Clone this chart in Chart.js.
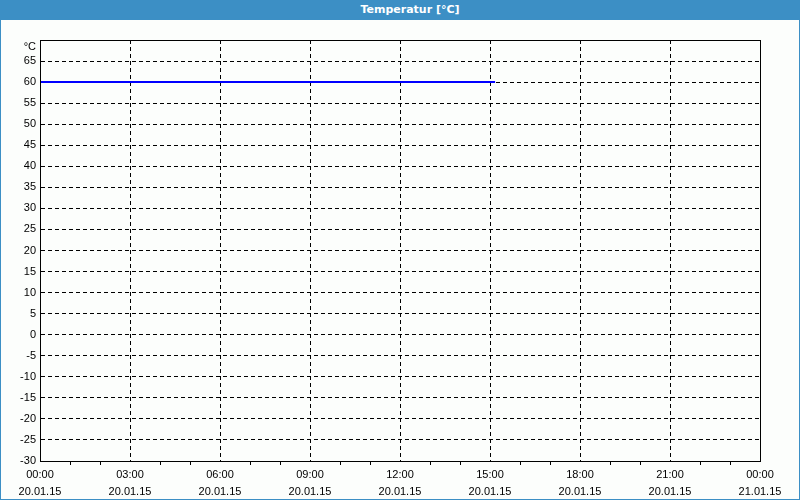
<!DOCTYPE html>
<html><head><meta charset="utf-8">
<script src="https://cdn.jsdelivr.net/npm/chart.js@4.4.1/dist/chart.umd.min.js"></script>
<style>
html,body{margin:0;padding:0;background:#fcfefc;}
#wrap{position:relative;width:800px;height:500px;box-sizing:border-box;border-left:1px solid #3c8fc5;border-right:1px solid #3c8fc5;border-bottom:1px solid #3c8fc5;background:#fcfefc;overflow:hidden;}
#title{position:absolute;left:-1px;top:0;width:800px;height:20px;box-sizing:border-box;padding-left:20px;background:#3c8fc5;color:#fff;font:bold 11px "DejaVu Sans",sans-serif;text-align:center;line-height:20px;}
#c{position:absolute;left:0;top:20px;}
</style></head>
<body>
<div id="wrap"><div id="title">Temperatur [°C]</div><canvas id="c" width="798" height="479"></canvas></div>
<script>
// Data (hours since 20.01.15 00:00)
const hours = [0, 1, 2, 3, 4, 5, 6, 7, 8, 9, 10, 11, 12, 13, 14, 15, 15.17];
const temps = [60, 60, 60, 60, 60, 60, 60, 60, 60, 60, 60, 60, 60, 60, 60, 60, 60];
const timeLabels = ["00:00","03:00","06:00","09:00","12:00","15:00","18:00","21:00","00:00"];
const dateLabels = ["20.01.15","20.01.15","20.01.15","20.01.15","20.01.15","20.01.15","20.01.15","20.01.15","21.01.15"];
const yUnit = "°C";

const points = hours.map((h,i)=>({x:h,y:temps[i]}));
const font = {family:"'Liberation Sans', Arial, sans-serif", size:11};

const boxPlugin = {
  id:'box',
  afterDraw(chart){
    const a = chart.chartArea, ctx = chart.ctx;
    ctx.save();
    ctx.strokeStyle = '#000'; ctx.lineWidth = 1; ctx.setLineDash([]);
    ctx.strokeRect(Math.round(a.left)+0.5, Math.round(a.top)+0.5, Math.round(a.right-a.left), Math.round(a.bottom-a.top));
    ctx.restore();
  }
};

new Chart(document.getElementById('c'), {
  type:'line',
  data:{datasets:[{data:points, borderColor:'#0000ff', borderWidth:2, pointRadius:0, tension:0}]},
  options:{
    responsive:false, animation:false, events:[],
    layout:{padding:{top:20,right:39,left:0,bottom:0}},
    plugins:{legend:{display:false}, tooltip:{enabled:false}},
    scales:{
      x:{type:'linear', min:0, max:24,
        afterFit(s){ s.height = 38; },
        border:{display:true,color:'#000',width:1,dash:[4,3]},
        grid:{
          color:(c)=> (c.tick && c.tick.value%3===0) ? '#000' : 'rgba(0,0,0,0)',
          tickColor:(c)=> (c.tick && c.tick.value%3===0) ? 'rgba(0,0,0,0)' : '#000',
          tickBorderDash:[], drawTicks:true, tickLength:4, lineWidth:1
        },
        ticks:{stepSize:1, autoSkip:false, maxRotation:0, minRotation:0, color:'#000', font:{...font, lineHeight:1.5}, padding:2,
          callback:(v)=> v%3===0 ? [timeLabels[v/3], dateLabels[v/3]] : ''}
      },
      y:{min:-30, max:70,
        afterFit(s){ s.width = 39; },
        border:{display:true,color:'#000',width:1,dash:[4,3]},
        grid:{color:'#000', drawTicks:false, lineWidth:1},
        ticks:{stepSize:5, autoSkip:false, color:'#000', font:font, padding:4,
          callback:(v)=> v===70 ? ['', yUnit] : String(v)}
      }
    }
  },
  plugins:[boxPlugin]
});
</script>
</body></html>
